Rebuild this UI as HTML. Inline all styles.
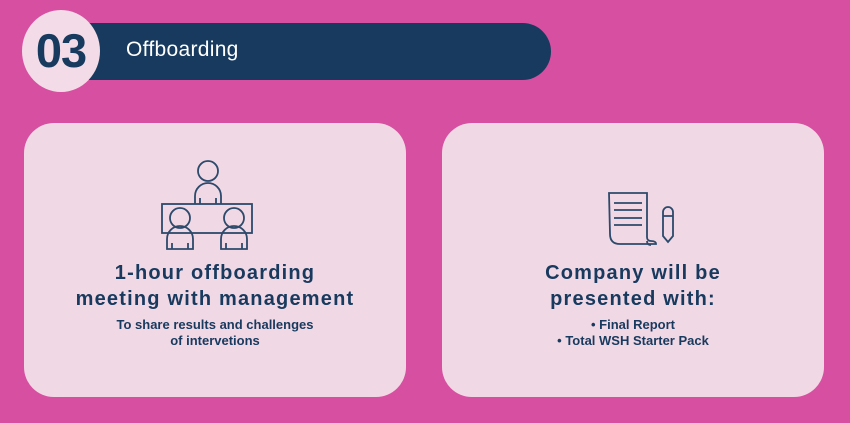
<!DOCTYPE html>
<html><head><meta charset="utf-8"><style>
body{margin:0;width:850px;height:423px;background:#d64fa1;position:relative;overflow:hidden;font-family:"Liberation Sans",sans-serif;color:#173a5e}
.bar{position:absolute;left:80px;top:23px;width:471px;height:57px;background:#173a5e;border-radius:0 29px 29px 0}
.bar span{position:absolute;left:46px;top:15px;color:#fff;font-size:21px;letter-spacing:0.3px}
.circ{position:absolute;left:22px;top:10px;width:78px;height:82px;border-radius:50%;background:#f3dbe8;text-align:center;line-height:82px;font-size:47px;font-weight:bold;letter-spacing:-1px;color:#173a5e}
.card{position:absolute;top:123px;width:382px;height:274px;background:#f1d8e5;border-radius:30px}
.t{position:absolute;left:0;width:100%;text-align:center;font-weight:bold}
.h{font-size:20px;letter-spacing:1.2px;line-height:26px;top:137px}
.s{font-size:13px;line-height:16px;top:194px}
</style></head><body>
<div class="bar"><span>Offboarding</span></div>
<div class="circ">03</div>
<div class="card" style="left:24px">
<svg style="position:absolute;left:0;top:0" width="382" height="274" fill="none" stroke="#2c4a6b" stroke-width="1.8">
<circle cx="184" cy="48" r="10"/>
<path d="M171 81 V73 a13 13 0 0 1 26 0 V81 M176 81 v-6 M192 81 v-6"/>
<rect x="138" y="81" width="90" height="29"/>
<circle cx="156" cy="95" r="10"/>
<path d="M143 126 V116 a13 13 0 0 1 26 0 V126 Z M148 126 v-6 M164 126 v-6"/>
<circle cx="210" cy="95" r="10"/>
<path d="M197 126 V116 a13 13 0 0 1 26 0 V126 Z M202 126 v-6 M218 126 v-6"/>
</svg>
<div class="t h">1-hour offboarding<br>meeting with management</div>
<div class="t s">To share results and challenges<br>of intervetions</div>
</div>
<div class="card" style="left:442px">
<svg style="position:absolute;left:0;top:0" width="382" height="274" fill="none" stroke="#2c4a6b" stroke-width="1.8">
<path d="M167 70 H205 V114 Q205 118 209 118 Q214 118 214 121 H178 Q168 121 168 111 Z"/>
<path d="M205 118 Q205 122 209 122"/>
<path d="M172 80 H200 M172 87 H200 M172 95 H200 M172 102 H200"/>
<path d="M221 89 a5 5 0 0 1 10 0 V113 L226 119 L221 113 Z M221 93 H231"/>
</svg>
<div class="t h">Company will be<br>presented with:</div>
<div class="t s">• Final Report<br>• Total WSH Starter Pack</div>
</div>
</body></html>
